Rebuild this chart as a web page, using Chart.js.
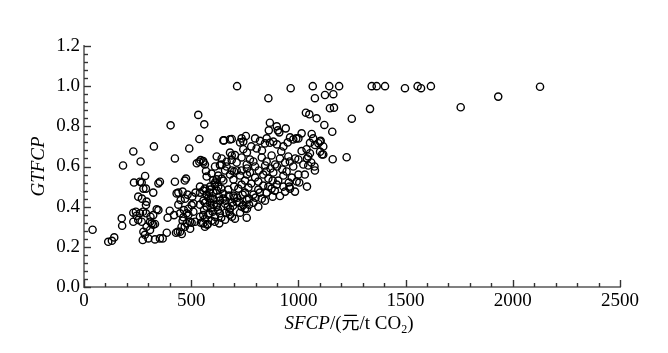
<!DOCTYPE html>
<html>
<head>
<meta charset="utf-8">
<title>SFCP vs GTFCP</title>
<script src="https://cdn.jsdelivr.net/npm/chart.js@4.4.1/dist/chart.umd.min.js"></script>
<style>
  html, body { margin: 0; padding: 0; background: #fff; }
  #wrap { width: 668px; height: 353px; }
</style>
</head>
<body>
<div id="wrap"><canvas id="scatter" width="668" height="353"></canvas></div>
<script>
// Axis ranges and ticks
const xMin = 0, xMax = 2500, xMajor = 500, xMinor = 100;
const yMin = 0, yMax = 1.2, yMajor = 0.2, yMinor = 0.04;

// Points: [SFCP, GTFCP]
const lowPts = [
    [40, .285], [113, .225], [130, .23], [141, .247], [176, .342], [178, .305], [182, .605],
    [230, .675], [264, .625], [233, .52], [261, .524], [285, .553], [269, .52], [289, .49],
    [347, .516], [277, .49], [323, .47], [253, .45], [292, .425], [289, .408], [270, .44],
    [230, .37], [242, .375], [261, .367], [275, .375], [289, .367], [323, .358], [230, .325],
    [253, .334], [269, .325], [308, .325], [316, .317], [331, .314], [292, .30], [308, .284],
    [277, .275], [284, .26], [274, .234], [300, .242], [331, .237], [354, .242], [347, .383],
    [326, .70], [339, .387], [323, .31], [310, .35], [245, .355]
];

const leftMidPts = [
    [367, .242], [386, .27], [404, .805], [424, .64], [424, .524], [420, .358], [429, .27],
    [437, .275], [448, .275], [456, .264], [432, .466], [440, .47], [460, .475], [471, .44],
    [451, .433], [448, .367], [463, .347], [460, .33], [479, .317], [476, .54], [470, .53],
    [491, .69], [502, .408], [487, .39], [479, .367], [510, .375], [502, .32], [518, .325],
    [510, .416], [487, .36], [494, .325], [466, .383], [470, .30], [495, .29], [354, .524],
    [390, .345], [400, .38], [440, .41], [455, .30], [483, .46], [505, .45], [520, .47]
];

const edgePts = [
    [533, .857], [561, .81], [538, .737], [526, .616], [538, .624], [556, .627], [544, .632],
    [564, .61], [569, .578], [611, .60], [634, .607], [603, .533], [619, .536], [642, .54],
    [541, .50], [564, .49], [588, .50], [556, .358], [585, .367], [600, .375], [634, .367],
    [661, .37], [678, .375], [556, .317], [577, .314], [631, .317], [564, .30], [575, .31],
    [653, .73], [681, .735], [650, .73], [681, .669], [704, .657], [642, .61], [665, .624],
    [689, .632], [658, .58], [689, .58], [712, .58], [735, .58], [714, 1.0]
];

const upperBandPts = [
    [689, .737], [728, .72], [743, .724], [735, .74], [755, .752], [798, .74], [821, .728],
    [844, .715], [852, .74], [867, .718], [883, .724], [961, .745], [976, .735], [990, .74],
    [1000, .74], [1015, .765], [1062, .762], [1069, .74], [1104, .728], [1054, .718],
    [1077, .707], [1093, .716], [1116, .70], [743, .686], [1015, .677], [1038, .686],
    [1054, .666], [1101, .674], [780, .70], [805, .69], [900, .71], [930, .70], [950, .72],
    [760, .67], [830, .68], [920, .675]
];

const highPts = [
    [860, .94], [867, .818], [899, .80], [904, .78], [911, .77], [862, .78], [941, .79],
    [1035, .868], [1051, .86], [1085, .84], [1121, .807], [1158, .773], [1147, .89],
    [1166, .893], [1249, .838], [1334, .887], [1225, .646], [1160, .636], [1116, .66],
    [1100, .725], [1077, .94], [1124, .956], [1163, .96], [1040, .64], [1060, .62],
    [1075, .60], [1077, .58], [1046, .65], [1110, .66]
];

const topPts = [
    [964, .99], [1067, 1.0], [1144, 1.0], [1190, 1.0], [1342, 1.0], [1365, 1.0], [1404, 1.0],
    [1497, .99], [1556, 1.0], [1572, .99], [1618, 1.0], [1757, .895], [1932, .948], [2127, .997]
];

const coreHighPts = [
    [557, .62], [619, .65], [642, .64], [665, .60], [689, .655], [712, .62], [735, .645],
    [759, .61], [774, .635], [798, .60], [829, .645], [852, .625], [875, .655], [891, .61],
    [914, .64], [938, .62], [953, .65], [976, .60], [1000, .635], [1023, .61], [1046, .605],
    [760, .59], [790, .625], [815, .58], [845, .605], [870, .59], [900, .60], [925, .585],
    [960, .625], [985, .64]
];

const coreMidPts = [
    [572, .55], [595, .565], [611, .52], [626, .555], [650, .53], [681, .56], [697, .535],
    [728, .555], [751, .53], [774, .57], [798, .545], [813, .525], [836, .56], [860, .54],
    [883, .57], [906, .53], [930, .555], [945, .575], [969, .545], [992, .525], [700, .575],
    [760, .56], [850, .575], [880, .53], [1000, .56], [1030, .56], [955, .52]
];

const coreLowPts = [
    [541, .47], [557, .48], [572, .46], [588, .485], [603, .47], [626, .50], [650, .465],
    [673, .485], [697, .455], [720, .49], [735, .51], [751, .47], [767, .495], [790, .46],
    [813, .485], [836, .505], [852, .47], [875, .49], [899, .51], [914, .453], [938, .475],
    [961, .49], [984, .475], [1004, .52], [958, .50], [930, .50], [880, .45], [829, .44],
    [751, .39], [743, .408], [610, .51], [640, .49], [700, .50], [780, .515], [820, .47],
    [860, .50], [890, .48], [1040, .50]
];

const baseBandPts = [
    [541, .41], [557, .43], [572, .40], [588, .42], [603, .44], [619, .40], [634, .43],
    [658, .415], [681, .39], [712, .425], [735, .40], [759, .435], [790, .42], [813, .40],
    [844, .43], [560, .385], [595, .395], [625, .385], [650, .44], [670, .40], [700, .445],
    [725, .42], [770, .41], [800, .445], [580, .445], [690, .42], [620, .41], [760, .39],
    [565, .42], [590, .44], [605, .41], [630, .45], [660, .43], [675, .455], [695, .405],
    [715, .445], [740, .46], [770, .44], [585, .47], [620, .48]
];

const bottomBandPts = [
    [541, .35], [564, .34], [580, .36], [595, .33], [611, .35], [658, .335], [681, .36],
    [704, .34], [728, .37], [759, .345], [545, .32], [610, .325], [640, .345], [690, .35]
];

const allPts = [].concat(lowPts, leftMidPts, edgePts, upperBandPts, highPts, topPts,
    coreHighPts, coreMidPts, coreLowPts, baseBandPts, bottomBandPts)
    .map(p => ({ x: p[0], y: p[1] }));

const serif = "'Liberation Serif', 'Times New Roman', serif";
const axisGray = '#808080';

// Inward major/minor ticks, like the original figure
const inwardTicks = {
    id: 'inwardTicks',
    afterDraw(chart) {
        const ctx = chart.ctx;
        const a = chart.chartArea;
        const x = chart.scales.x, y = chart.scales.y;
        ctx.save();
        ctx.strokeStyle = '#333';
        ctx.lineWidth = 1.4;
        const nx = Math.round((xMax - xMin) / xMinor);
        for (let i = 0; i <= nx; i++) {
            const px = Math.round(x.getPixelForValue(xMin + i * xMinor)) + 0.5;
            const len = i % 5 === 0 ? 7 : 4;
            ctx.beginPath();
            ctx.moveTo(px, a.bottom);
            ctx.lineTo(px, a.bottom - len);
            ctx.stroke();
        }
        const ny = Math.round((yMax - yMin) / yMinor);
        for (let i = 0; i <= ny; i++) {
            const py = Math.round(y.getPixelForValue(yMin + i * yMinor)) + 0.5;
            const len = i % 5 === 0 ? 7 : 4;
            ctx.beginPath();
            ctx.moveTo(a.left, py);
            ctx.lineTo(a.left + len, py);
            ctx.stroke();
        }
        ctx.restore();
    }
};

// x title with mixed italic / CJK / subscript
const xTitle = {
    id: 'xTitle',
    afterDraw(chart) {
        const ctx = chart.ctx;
        const a = chart.chartArea;
        const parts = [
            { t: 'SFCP', f: 'italic 19px ' + serif, dy: 0 },
            { t: '/(', f: '19px ' + serif, dy: 0 },
            { t: '元', f: "18px 'Noto Sans CJK SC', sans-serif", dy: 0 },
            { t: '/t CO', f: '19px ' + serif, dy: 0 },
            { t: '2', f: '12px ' + serif, dy: 4 },
            { t: ')', f: '19px ' + serif, dy: 0 }
        ];
        ctx.save();
        ctx.fillStyle = '#000';
        ctx.textBaseline = 'alphabetic';
        let total = 0;
        parts.forEach(p => { ctx.font = p.f; p.w = ctx.measureText(p.t).width; total += p.w; });
        let cx = (a.left + a.right) / 2 - 3 - total / 2;
        const base = 329;
        parts.forEach(p => {
            ctx.font = p.f;
            ctx.fillText(p.t, cx, base + p.dy);
            cx += p.w;
        });
        ctx.restore();
    }
};

new Chart(document.getElementById('scatter'), {
    type: 'scatter',
    data: {
        datasets: [{
            data: allPts,
            borderColor: '#000',
            backgroundColor: 'rgba(0,0,0,0)',
            borderWidth: 1.4,
            pointRadius: 3.6,
            pointHoverRadius: 3.6
        }]
    },
    options: {
        responsive: false,
        devicePixelRatio: 1,
        animation: false,
        layout: { padding: { top: 46, right: 48, left: 0, bottom: 0 } },
        plugins: { legend: { display: false }, tooltip: { enabled: false } },
        scales: {
            x: {
                type: 'linear',
                min: xMin, max: xMax,
                afterFit: s => { s.height = 66; },
                grid: { display: false, drawTicks: false },
                border: { display: true, color: axisGray, width: 2 },
                ticks: {
                    stepSize: xMajor,
                    padding: 3,
                    color: '#000',
                    font: { family: serif, size: 19 },
                    maxRotation: 0,
                    callback: v => String(v)
                }
            },
            y: {
                type: 'linear',
                min: yMin, max: yMax,
                afterFit: s => { s.width = 84; },
                grid: { display: false, drawTicks: false },
                border: { display: true, color: axisGray, width: 2 },
                ticks: {
                    stepSize: yMajor,
                    padding: 4,
                    color: '#000',
                    font: { family: serif, size: 19 },
                    callback: v => v.toFixed(1)
                },
                title: {
                    display: true,
                    text: 'GTFCP',
                    color: '#000',
                    font: { family: serif, size: 19, style: 'italic' },
                    padding: { top: 28, bottom: 0 }
                }
            }
        }
    },
    plugins: [inwardTicks, xTitle]
});
</script>
</body>
</html>
